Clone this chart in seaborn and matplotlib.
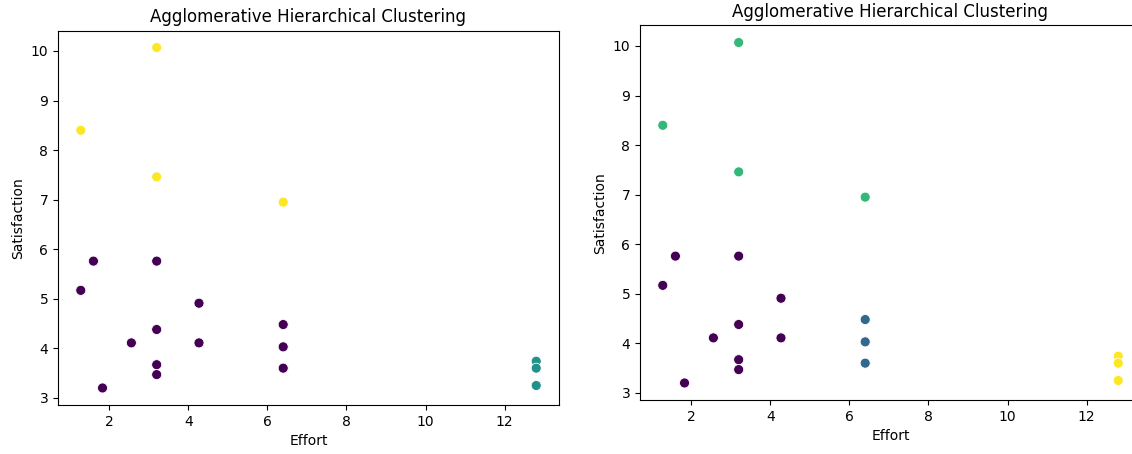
import matplotlib
matplotlib.use("Agg")
import matplotlib.pyplot as plt
import seaborn as sns
import pandas as pd

# Effort / satisfaction observations
effort = [3.2, 1.28, 3.2, 6.4, 1.6, 3.2, 1.28, 4.27, 3.2, 6.4,
          2.56, 4.27, 6.4, 3.2, 6.4, 3.2, 1.83, 12.8, 12.8, 12.8]
satisfaction = [10.07, 8.40, 7.46, 6.95, 5.76, 5.76, 5.17, 4.91, 4.38, 4.48,
                4.11, 4.11, 4.03, 3.67, 3.60, 3.47, 3.20, 3.74, 3.60, 3.25]

# Cluster assignments for the two runs (3 and 4 clusters)
labels_3 = [2, 2, 2, 2, 0, 0, 0, 0, 0, 0, 0, 0, 0, 0, 0, 0, 0, 1, 1, 1]
labels_4 = [2, 2, 2, 2, 0, 0, 0, 0, 0, 1, 0, 0, 1, 0, 1, 0, 0, 3, 3, 3]

df = pd.DataFrame({"Effort": effort, "Satisfaction": satisfaction,
                   "k3": labels_3, "k4": labels_4})

fig = plt.figure(figsize=(11.32, 4.54), dpi=100)
W, H = 1132, 454
ax1 = fig.add_axes([58 / W, (H - 405) / H, 501 / W, 374.5 / H])
ax2 = fig.add_axes([640 / W, (H - 400) / H, 501 / W, 374.5 / H])

for ax, col in ((ax1, "k3"), (ax2, "k4")):
    sns.scatterplot(data=df, x="Effort", y="Satisfaction", hue=col,
                    palette="viridis", s=52, legend=False, ax=ax)
    ax.set_title("Agglomerative Hierarchical Clustering")
    ax.set_xlabel("Effort")
    ax.set_ylabel("Satisfaction")

fig.savefig("out.png", dpi=100)
